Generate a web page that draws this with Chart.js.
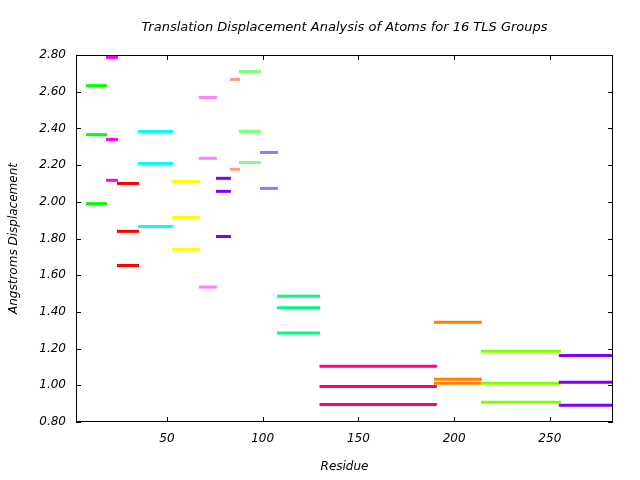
<!DOCTYPE html>
<html>
<head>
<meta charset="utf-8">
<script src="https://cdn.jsdelivr.net/npm/chart.js@4"></script>
<style>
  body { margin: 0; background: #fff; }
</style>
</head>
<body>
<canvas id="grafico" width="640" height="480"></canvas>
<script>
// Faixas de resíduos de cada grupo TLS
const groupStart = [7.7, 18.2, 23.9, 34.9, 52.6, 66.7, 75.6, 82.9, 87.6, 98.6, 107.5, 129.7, 189.5, 214, 254.7];
const groupEnd   = [18.7, 24.4, 35.4, 53.2, 67.2, 76.1, 83.4, 88.1, 99.1, 108, 130, 191, 214.5, 255.8, 283];

// Deslocamentos (Angstroms) de cada grupo
const groupValues = [
  [2.633, 2.366, 1.99],
  [2.787, 2.34, 2.117],
  [2.10, 1.839, 1.653],
  [2.383, 2.209, 1.866],
  [2.111, 1.915, 1.741],
  [2.569, 2.237, 1.535],
  [2.128, 2.057, 1.811],
  [2.667, 2.177],
  [2.71, 2.383, 2.214],
  [2.269, 2.073],
  [1.485, 1.423, 1.285],
  [1.104, 0.994, 0.895],
  [1.343, 1.033, 1.011],
  [1.185, 1.011, 0.907],
  [1.163, 1.016, 0.891]
];

const groupColors = ['#00ff00', '#ff00ff', '#ff0000', '#00ffff', '#ffff00', '#ff80ff', '#8000ff',
  '#ff9980', '#80ff80', '#8080ff', '#00ff80', '#ff0080', '#ff8000', '#80ff00', '#8000ff'];

const fonte = { family: 'DejaVu Sans', size: 12, style: 'italic' };

// Um dataset por segmento
const datasets = [];
groupValues.forEach((valores, g) => {
  valores.forEach(v => {
    datasets.push({
      data: [{ x: groupStart[g], y: v }, { x: groupEnd[g], y: v }],
      borderColor: groupColors[g],
      backgroundColor: groupColors[g],
      borderWidth: 3,
      showLine: true,
      pointRadius: 0,
      order: 100 - g
    });
  });
});

// Moldura e marcas para dentro, estilo gnuplot
const moldura = {
  id: 'moldura',
  afterDraw(chart) {
    const { ctx, chartArea: a, scales } = chart;
    const len = 5;
    ctx.save();
    ctx.strokeStyle = '#000';
    ctx.lineWidth = 1;
    ctx.strokeRect(a.left + 0.5, a.top + 0.5, a.right - a.left - 1, a.bottom - a.top - 1);
    ctx.beginPath();
    scales.x.ticks.forEach(t => {
      const px = Math.round(scales.x.getPixelForValue(t.value)) + 0.5;
      ctx.moveTo(px, a.bottom); ctx.lineTo(px, a.bottom - len);
      ctx.moveTo(px, a.top); ctx.lineTo(px, a.top + len);
    });
    scales.y.ticks.forEach(t => {
      const py = Math.round(scales.y.getPixelForValue(t.value)) + 0.5;
      ctx.moveTo(a.left, py); ctx.lineTo(a.left + len, py);
      ctx.moveTo(a.right, py); ctx.lineTo(a.right - len, py);
    });
    ctx.stroke();
    ctx.restore();
  }
};

new Chart(document.getElementById('grafico').getContext('2d'), {
  type: 'scatter',
  data: { datasets },
  plugins: [moldura],
  options: {
    responsive: false,
    animation: false,
    layout: { padding: { left: 0, right: 27, top: 0, bottom: 0 } },
    plugins: {
      legend: { display: false },
      tooltip: { enabled: false },
      title: {
        display: true,
        fullSize: false,
        text: 'Translation Displacement Analysis of Atoms for 16 TLS Groups',
        color: '#000',
        font: { family: 'DejaVu Sans', size: 13, style: 'italic', weight: 'normal' },
        padding: { top: 20, bottom: 19.4 }
      }
    },
    scales: {
      x: {
        type: 'linear',
        min: 2.5,
        max: 283,
        afterFit: s => { s.height = 58; },
        grid: { display: false, drawTicks: false },
        border: { display: false },
        ticks: { stepSize: 50, includeBounds: false, color: '#000', font: fonte, padding: 10, maxRotation: 0 },
        title: { display: true, text: 'Residue', color: '#000', font: fonte, padding: { top: 0, bottom: 5.5 } }
      },
      y: {
        min: 0.8,
        max: 2.8,
        afterFit: s => { s.width = 76; },
        grid: { display: false, drawTicks: false },
        border: { display: false },
        ticks: { stepSize: 0.2, color: '#000', font: fonte, padding: 10, callback: v => v.toFixed(2) },
        title: { display: true, text: 'Angstroms Displacement', color: '#000', font: fonte, padding: { top: 6.5, bottom: 0 } }
      }
    }
  }
});
</script>
</body>
</html>
